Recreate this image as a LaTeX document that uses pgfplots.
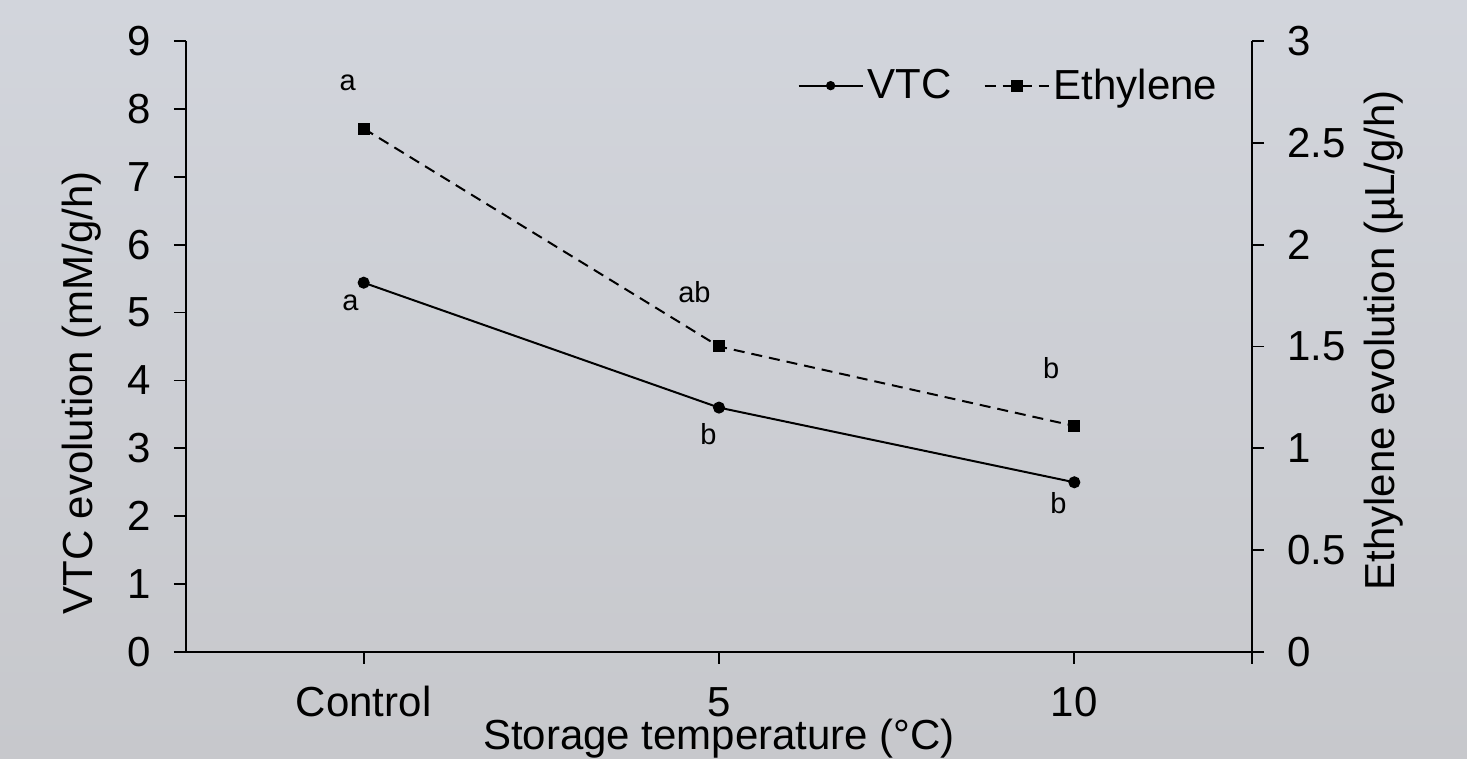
\documentclass[border=0pt]{standalone}
\usepackage{pgfplots}
\pgfplotsset{compat=1.18}
\usepackage{fontspec}
\setmainfont{Liberation Sans}
\definecolor{bgtop}{HTML}{D2D5DC}
\definecolor{bgbot}{HTML}{C7C8CC}
\newcommand{\bigf}{\fontsize{21}{24}\selectfont}
\newcommand{\smf}{\fontsize{14.5}{16}\selectfont}
\begin{document}
\begin{tikzpicture}
\path[use as bounding box] (0,0) rectangle (733.5pt,379.5pt);
\shade[top color=bgtop,bottom color=bgbot] (0,0) rectangle (733.5pt,379.5pt);
\pgfplotsset{
 common/.style={
  at={(93pt,53.5pt)}, anchor=south west,
  scale only axis, width=533pt, height=305.5pt,
  xmin=-0.5, xmax=2.5,
  tick align=outside,
  axis line style={black, line width=0.9pt},
  major tick style={black, line width=0.9pt},
  major tick length=6pt,
  /pgf/number format/assume math mode=true,
  ticklabel style={font=\bigf},
  label style={font=\bigf},
 }
}
\begin{axis}[common,
  axis x line*=bottom, axis y line*=left,
  xtick={0,1,2,2.5}, xticklabels={Control,5,10,{}},
  ymin=0, ymax=9, ytick={0,1,...,9},
  xticklabel style={anchor=base, yshift=-26.5pt},
  yticklabel style={xshift=-8pt},
  xlabel={Storage temperature (°C)},
  xlabel style={at={(rel axis cs:0.5,0)}, anchor=base, yshift=-49pt},
  ylabel={VTC evolution (mM/g/h)},
  ylabel style={at={(rel axis cs:0,0.424)}, anchor=center, yshift=52pt},
]
\addplot[black, line width=1pt, mark=*, mark size=2.5pt] coordinates {(0,5.44) (1,3.60) (2,2.50)};
\node[font=\smf] at (axis cs:-0.045,8.38) {a};
\node[font=\smf] at (axis cs:-0.037,5.14) {a};
\node[font=\smf] at (axis cs:0.931,5.30) {ab};
\node[font=\smf] at (axis cs:0.970,3.21) {b};
\node[font=\smf] at (axis cs:1.935,4.18) {b};
\node[font=\smf] at (axis cs:1.955,2.20) {b};
\end{axis}
\begin{axis}[common,
  axis x line=none, axis y line*=right,
  ymin=0, ymax=3, ytick={0,0.5,...,3},
  yticklabel style={xshift=8pt},
  ylabel={Ethylene evolution (µL/g/h)},
  ylabel style={at={(rel axis cs:1,0.51)}, anchor=center, yshift=-66pt},
  legend columns=2,
  legend style={draw=none, fill=none, font=\bigf, at={(rel axis cs:0.977,0.968)}, anchor=north east,
    /tikz/every even column/.append style={column sep=14pt}},
  legend image code/.code={\draw[mark repeat=2,mark phase=2,#1] plot coordinates {(0pt,0pt) (16pt,0pt) (32pt,0pt)};},
]
\addlegendimage{black, line width=1pt, mark=*, mark size=1.8pt}
\addlegendentry{VTC}
\addplot[black, line width=1pt, dash pattern=on 5.5pt off 3.5pt, mark=square*, mark size=2.5pt, mark options={solid}] coordinates {(0,2.57) (1,1.50) (2,1.11)};
\addlegendentry{Ethylene}
\end{axis}
\end{tikzpicture}
\end{document}
